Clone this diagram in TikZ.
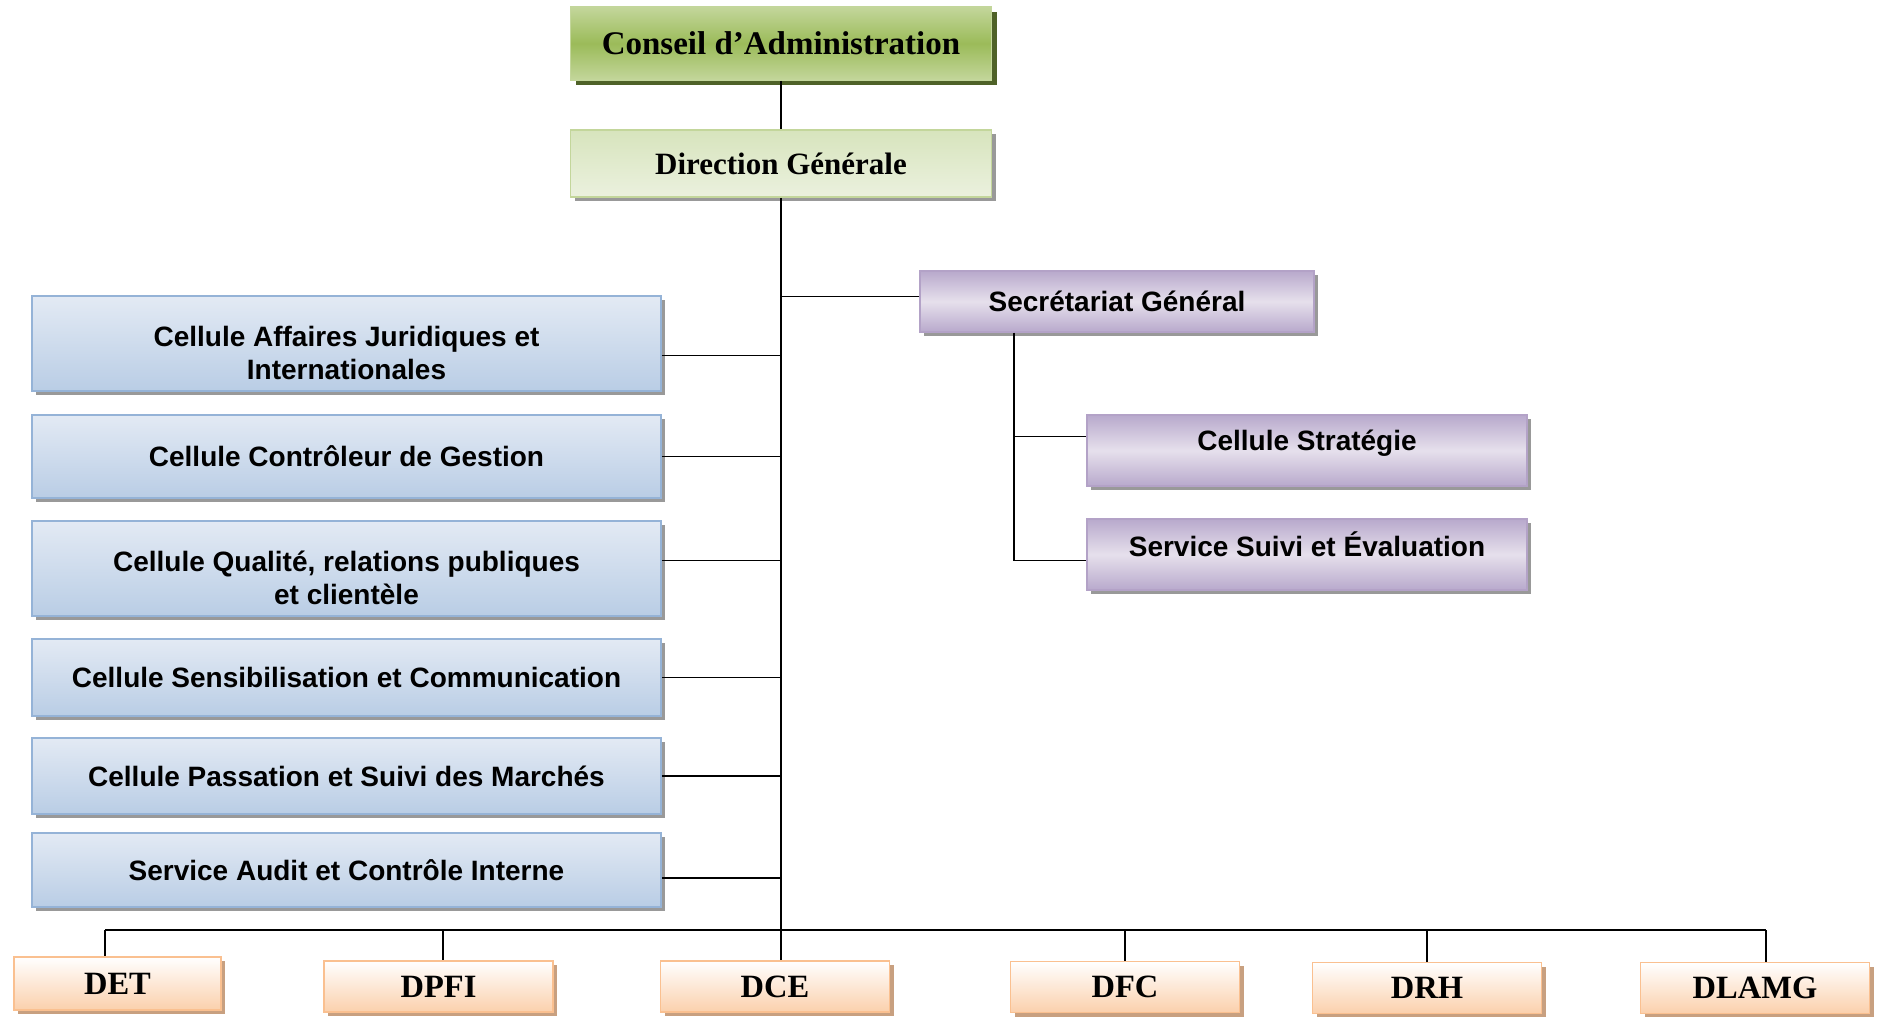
\documentclass[tikz,border=0pt]{standalone}
\usepackage{fontspec}
\setmainfont{Liberation Serif}
\setsansfont{Liberation Sans}
\usetikzlibrary{shadows}

\definecolor{caMid}{HTML}{9BBB59}
\definecolor{caLight}{HTML}{C3D69B}
\definecolor{caDark}{HTML}{4F6228}
\definecolor{dgTop}{HTML}{D7E4BD}
\definecolor{dgBot}{HTML}{EBF1DE}
\definecolor{cellTop}{HTML}{E3EAF4}
\definecolor{cellBot}{HTML}{B9CDE5}
\definecolor{cellEdge}{HTML}{95B3D7}
\definecolor{sgTop}{HTML}{B8A9CC}
\definecolor{sgMid}{HTML}{E6E0EC}
\definecolor{sgEdge}{HTML}{B3A2C7}
\definecolor{dirBot}{HTML}{FBD0AC}
\definecolor{dirEdge}{HTML}{FAC090}
\definecolor{dirShade}{HTML}{C8A080}

\tikzset{
  box/.style={draw, line width=1.5pt, inner sep=0pt, align=center},
  grayshadow/.style={drop shadow={shadow xshift=4pt, shadow yshift=-4pt, fill=black!40, opacity=1}},
  cabox/.style={box, draw=caLight, top color=caLight, bottom color=caLight, middle color=caMid,
    minimum width=421pt, minimum height=73pt, font=\bfseries\fontsize{33}{40}\selectfont,
    drop shadow={shadow xshift=5pt, shadow yshift=-5pt, fill=caDark, opacity=1}},
  dgbox/.style={box, grayshadow, draw=caLight, top color=dgTop, bottom color=dgBot,
    minimum width=421pt, minimum height=67pt, font=\bfseries\fontsize{31}{37}\selectfont},
  cellbox/.style={box, grayshadow, draw=cellEdge, top color=cellTop, bottom color=cellBot,
    minimum width=629pt, font=\sffamily\bfseries\fontsize{28}{33.5}\selectfont},
  twolines/.style={text height=80pt, text depth=8pt},
  sgbox/.style={box, grayshadow, draw=sgEdge, top color=sgTop, bottom color=sgTop, middle color=sgMid,
    font=\sffamily\bfseries\fontsize{28}{33.5}\selectfont},
  dirbox/.style={box, draw=dirEdge, top color=white, bottom color=dirBot,
    minimum width=229pt, minimum height=51pt, font=\bfseries\fontsize{32.5}{39}\selectfont,
    drop shadow={shadow xshift=4pt, shadow yshift=-4pt, fill=dirShade, opacity=1}},
  link/.style={line width=1.6pt}
}

\begin{document}
\begin{tikzpicture}[x=1pt, y=-1pt]
\useasboundingbox (0,0) rectangle (1879,1017);

\node[cabox] (ca) at (781,43.5) {Conseil d’Administration};
\node[dgbox] (dg) at (781,163.5) {Direction Générale};

\node[sgbox, minimum width=394pt, minimum height=61pt] (sg) at (1117,301.5) {Secrétariat Général};
\node[sgbox, minimum width=440pt, minimum height=71pt, text depth=20pt] (cs) at (1307,450.5) {Cellule Stratégie};
\node[sgbox, minimum width=440pt, minimum height=71pt, text depth=20pt] (ss) at (1307,554.5) {Service Suivi et Évaluation};

\node[cellbox, twolines, minimum height=95pt] (cj) at (346.5,343.5) {Cellule Affaires Juridiques et\\Internationales};
\node[cellbox, minimum height=83pt] (cg) at (346.5,456.5) {Cellule Contrôleur de Gestion};
\node[cellbox, twolines, minimum height=95pt] (cq) at (346.5,568.5) {Cellule Qualité, relations publiques\\et clientèle};
\node[cellbox, minimum height=77pt] (cc) at (346.5,677.5) {Cellule Sensibilisation et Communication};
\node[cellbox, minimum height=76pt] (cm) at (346.5,776) {Cellule Passation et Suivi des Marchés};
\node[cellbox, minimum height=74pt] (ac) at (346.5,870) {Service Audit et Contrôle Interne};

\node[dirbox, minimum width=207pt, minimum height=53pt] (det) at (117.5,983.5) {DET};
\node[dirbox] (dpfi) at (438.5,986.5) {DPFI};
\node[dirbox] (dce) at (775,986.5) {DCE};
\node[dirbox] (dfc) at (1125,987) {DFC};
\node[dirbox] (drh) at (1427,988) {DRH};
\node[dirbox] (dlamg) at (1755,988) {DLAMG};

\coordinate (bl) at (105,930);
\coordinate (br) at (1766,930);

\draw[link] (ca) -- (dg);
\draw[link] (dg.south) -- (dg.south |- dce.north);
\draw[link] ([yshift=5pt]sg.west) -- ([yshift=5pt]sg.west -| dg.south);
\draw[link] ([xshift=-103pt]sg.south) |- ([yshift=14pt]cs.west);
\draw[link] ([xshift=-103pt]sg.south) |- ([yshift=-6pt]ss.west);
\draw[link] ([yshift=-12pt]cj.east) -- ([yshift=-12pt]cj.east -| dg.south);
\draw[link] (cg.east) -- (cg.east -| dg.south);
\draw[link] ([yshift=8pt]cq.east) -- ([yshift=8pt]cq.east -| dg.south);
\draw[link] (cc.east) -- (cc.east -| dg.south);
\draw[link] (cm.east) -- (cm.east -| dg.south);
\draw[link] ([yshift=-8pt]ac.east) -- ([yshift=-8pt]ac.east -| dg.south);

\draw[link] (bl) -- (br);
\draw[link] (bl) -- (bl |- det.north);
\draw[link] (bl -| 443,0) -- (443,0 |- dpfi.north);
\draw[link] (bl -| dfc.north) -- (dfc.north);
\draw[link] (bl -| drh.north) -- (drh.north);
\draw[link] (br) -- (br |- dlamg.north);
\end{tikzpicture}
\end{document}
